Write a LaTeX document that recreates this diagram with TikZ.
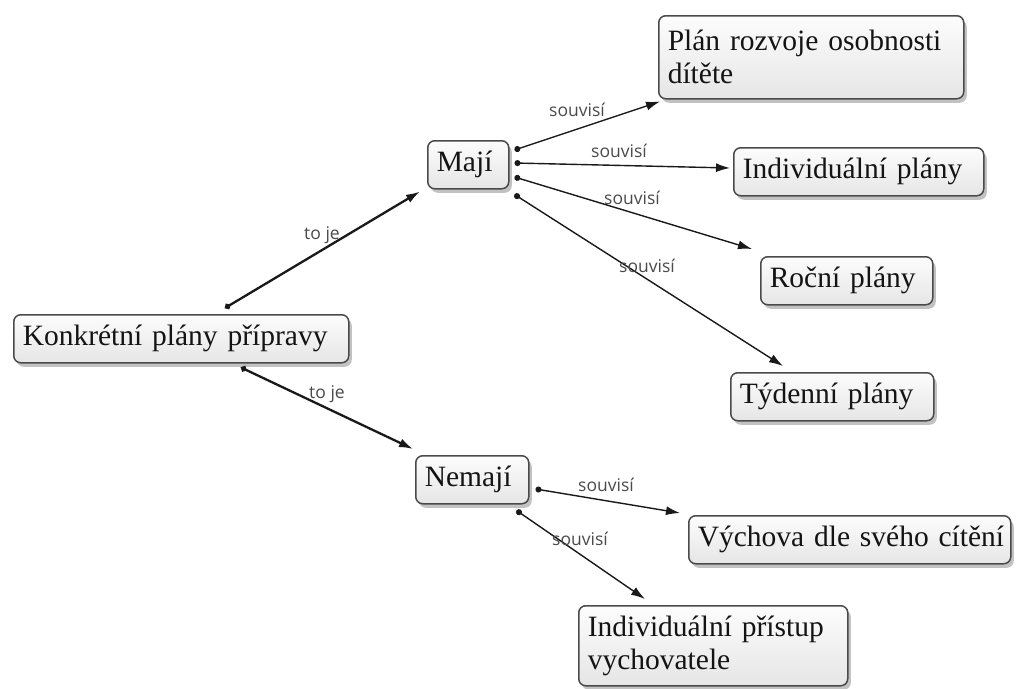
\documentclass[tikz,border=0pt]{standalone}
\usepackage{fontspec}
\setmainfont{Liberation Serif}
\newfontfamily\lblfont{Open Sans}
\usetikzlibrary{arrows.meta,calc,shadows}
\definecolor{boxborder}{HTML}{4A4A4A}
\definecolor{lblgray}{HTML}{4A4A4A}
\definecolor{txtcol}{HTML}{141414}
\tikzset{
  box/.style={draw=boxborder, line width=1.5pt, rounded corners=7pt,
    top color=white!99!black, bottom color=white!90!black,
    anchor=north west, inner xsep=9pt, inner ysep=0pt, align=left,
    font=\fontsize{29.5}{33}\selectfont, text=txtcol,
    drop shadow={shadow xshift=3pt, shadow yshift=-4pt, opacity=0.4, fill=black!60}},
  conn/.style={draw=black!90, line width=1.4pt,
    {Circle[length=6pt]}-{Latex[length=14pt,width=9pt]}},
  mainconn/.style={conn, line width=2.3pt},
  lbl/.style={font=\lblfont\fontsize{17.5}{18}\selectfont, text=lblgray, inner sep=0pt}
}
\begin{document}
\begin{tikzpicture}[x=1pt,y=-1pt]
\path[use as bounding box] (0,0) rectangle (1017,688);

\node[box, text width=317pt, minimum height=48pt] (konk) at (13,314) {\mbox{Konkrétní plány přípravy}};
\node[box, text width=63pt, minimum height=48pt] (maji) at (427,140) {\mbox{Mají}};
\node[box, text width=95pt, minimum height=48pt] (nemaji) at (415,455) {\mbox{Nemají}};
\node[box, text width=287pt, minimum height=83pt] (plan) at (658,15) {\mbox{Plán rozvoje osobnosti}\\dítěte};
\node[box, text width=232pt, minimum height=48pt] (indiv) at (733,147) {\mbox{Individuální plány}};
\node[box, text width=154pt, minimum height=48pt] (rocni) at (760,256) {\mbox{Roční plány}};
\node[box, text width=185pt, minimum height=48pt] (tyd) at (730,372) {\mbox{Týdenní plány}};
\node[box, text width=304pt, minimum height=48pt] (vych) at (688,515) {\mbox{Výchova dle svého cítění}};
\node[box, text width=251pt, minimum height=80pt] (prist) at (578,605) {\mbox{Individuální přístup}\\vychovatele};

\draw[mainconn] ($(konk.north west)+(212,-6)$) -- ($(maji.south west)+(-7,2)$);
\draw[mainconn] ($(konk.south west)+(228,4)$) -- ($(nemaji.north west)+(-2,-6)$);
\draw[conn] ($(maji.north east)+(5,10)$) -- ($(plan.south west)+(2,2)$);
\draw[conn] ($(maji.north east)+(5,23)$) -- ($(indiv.north west)+(-3,21)$);
\draw[conn] ($(maji.north east)+(5,37)$) -- ($(rocni.north west)+(-8,-7)$);
\draw[conn] ($(maji.south east)+(5,5)$) -- ($(tyd.north west)+(53,-6)$);
\draw[conn] ($(nemaji.north east)+(6,34)$) -- ($(vych.north west)+(-8,-2)$);
\draw[conn] ($(nemaji.south east)+(-13,6)$) -- ($(prist.north west)+(67,-6)$);

\node[lbl] (l1) at (322,235) {to je};
\node[lbl] (l2) at (327,394) {to je};
\node[lbl] (l3) at (577,110) {souvisí};
\node[lbl] (l4) at (619,151) {souvisí};
\node[lbl] (l5) at (632,198) {souvisí};
\node[lbl] (l6) at (647,266) {souvisí};
\node[lbl] (l7) at (606,485) {souvisí};
\node[lbl] (l8) at (580,539) {souvisí};
\end{tikzpicture}
\end{document}
